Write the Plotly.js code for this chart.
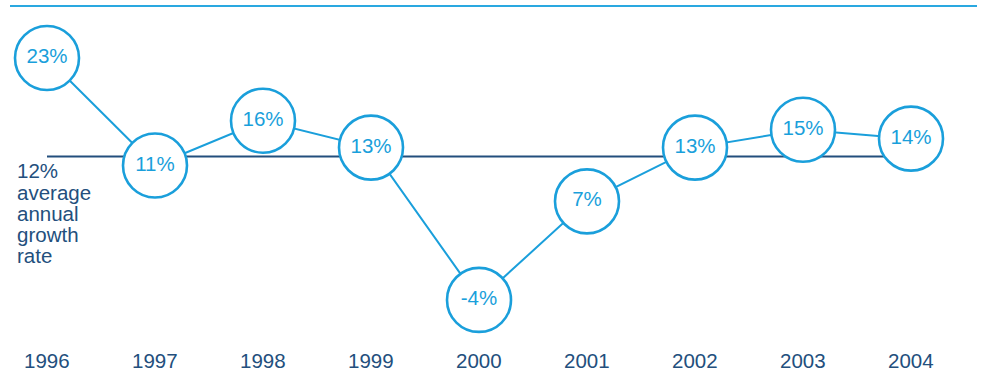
<!DOCTYPE html>
<html>
<head>
<meta charset="utf-8">
<script src="https://cdn.plot.ly/plotly-3.0.1.min.js"></script>
<style>
html,body{margin:0;padding:0;background:#fff;}
#chart{width:981px;height:375px;}
</style>
</head>
<body>
<div id="chart"></div>
<script>
const years = [1996, 1997, 1998, 1999, 2000, 2001, 2002, 2003, 2004];
const growth = [23, 11, 16, 13, -4, 7, 13, 15, 14];
const growthLabels = ["23%", "11%", "16%", "13%", "-4%", "7%", "13%", "15%", "14%"];
const yearLabels = ["1996", "1997", "1998", "1999", "2000", "2001", "2002", "2003", "2004"];
const averageRate = 12;
const averageLabelLines = ["12%", "average", "annual", "growth", "rate"];

const BLUE = "#1a9fdb";
const NAVY = "#234f7d";
const FONT = "Liberation Sans, Arial, Helvetica, sans-serif";

const traces = [
  {
    x: [years[0], years[years.length - 1]],
    y: [averageRate, averageRate],
    mode: "lines",
    line: {color: NAVY, width: 2},
    hoverinfo: "skip",
    showlegend: false
  },
  {
    x: years,
    y: growth,
    mode: "lines+markers+text",
    text: growthLabels,
    textposition: "middle center",
    textfont: {family: FONT, size: 20.5, color: BLUE},
    line: {color: BLUE, width: 2},
    marker: {size: 64, color: "#ffffff", line: {color: BLUE, width: 2.6}},
    cliponaxis: false,
    showlegend: false
  }
];

const pxPerUnit = 8.96;
const y0 = 23 + 58 / pxPerUnit;
const y1 = y0 - 375 / pxPerUnit;
const x0 = 1996 - 47 / 108;
const x1 = x0 + 981 / 108;

const annotations = yearLabels.map((t, i) => ({
  x: years[i], xref: "x",
  y: 1 - 360 / 375, yref: "paper",
  text: t, showarrow: false,
  xanchor: "center", yanchor: "middle",
  font: {family: FONT, size: 20.5, color: NAVY}
}));
averageLabelLines.forEach((t, i) => {
  annotations.push({
    x: 15 / 981, xref: "paper",
    y: 1 - (171 + i * 21.2) / 375, yref: "paper",
    text: t, showarrow: false,
    xanchor: "left", yanchor: "middle",
    font: {family: FONT, size: 20.5, color: NAVY}
  });
});

const layout = {
  width: 981, height: 375,
  margin: {l: 0, r: 0, t: 0, b: 0, pad: 0},
  paper_bgcolor: "#ffffff",
  plot_bgcolor: "#ffffff",
  xaxis: {range: [x0, x1], visible: false, fixedrange: true},
  yaxis: {range: [y1, y0], visible: false, fixedrange: true},
  shapes: [{
    type: "line", xref: "paper", yref: "paper",
    x0: 10 / 981, x1: 977 / 981, y0: 1 - 6 / 375, y1: 1 - 6 / 375,
    line: {color: "#2aa8e0", width: 2}
  }],
  annotations: annotations,
  showlegend: false
};

Plotly.newPlot("chart", traces, layout, {displayModeBar: false, staticPlot: true});
</script>
</body>
</html>
